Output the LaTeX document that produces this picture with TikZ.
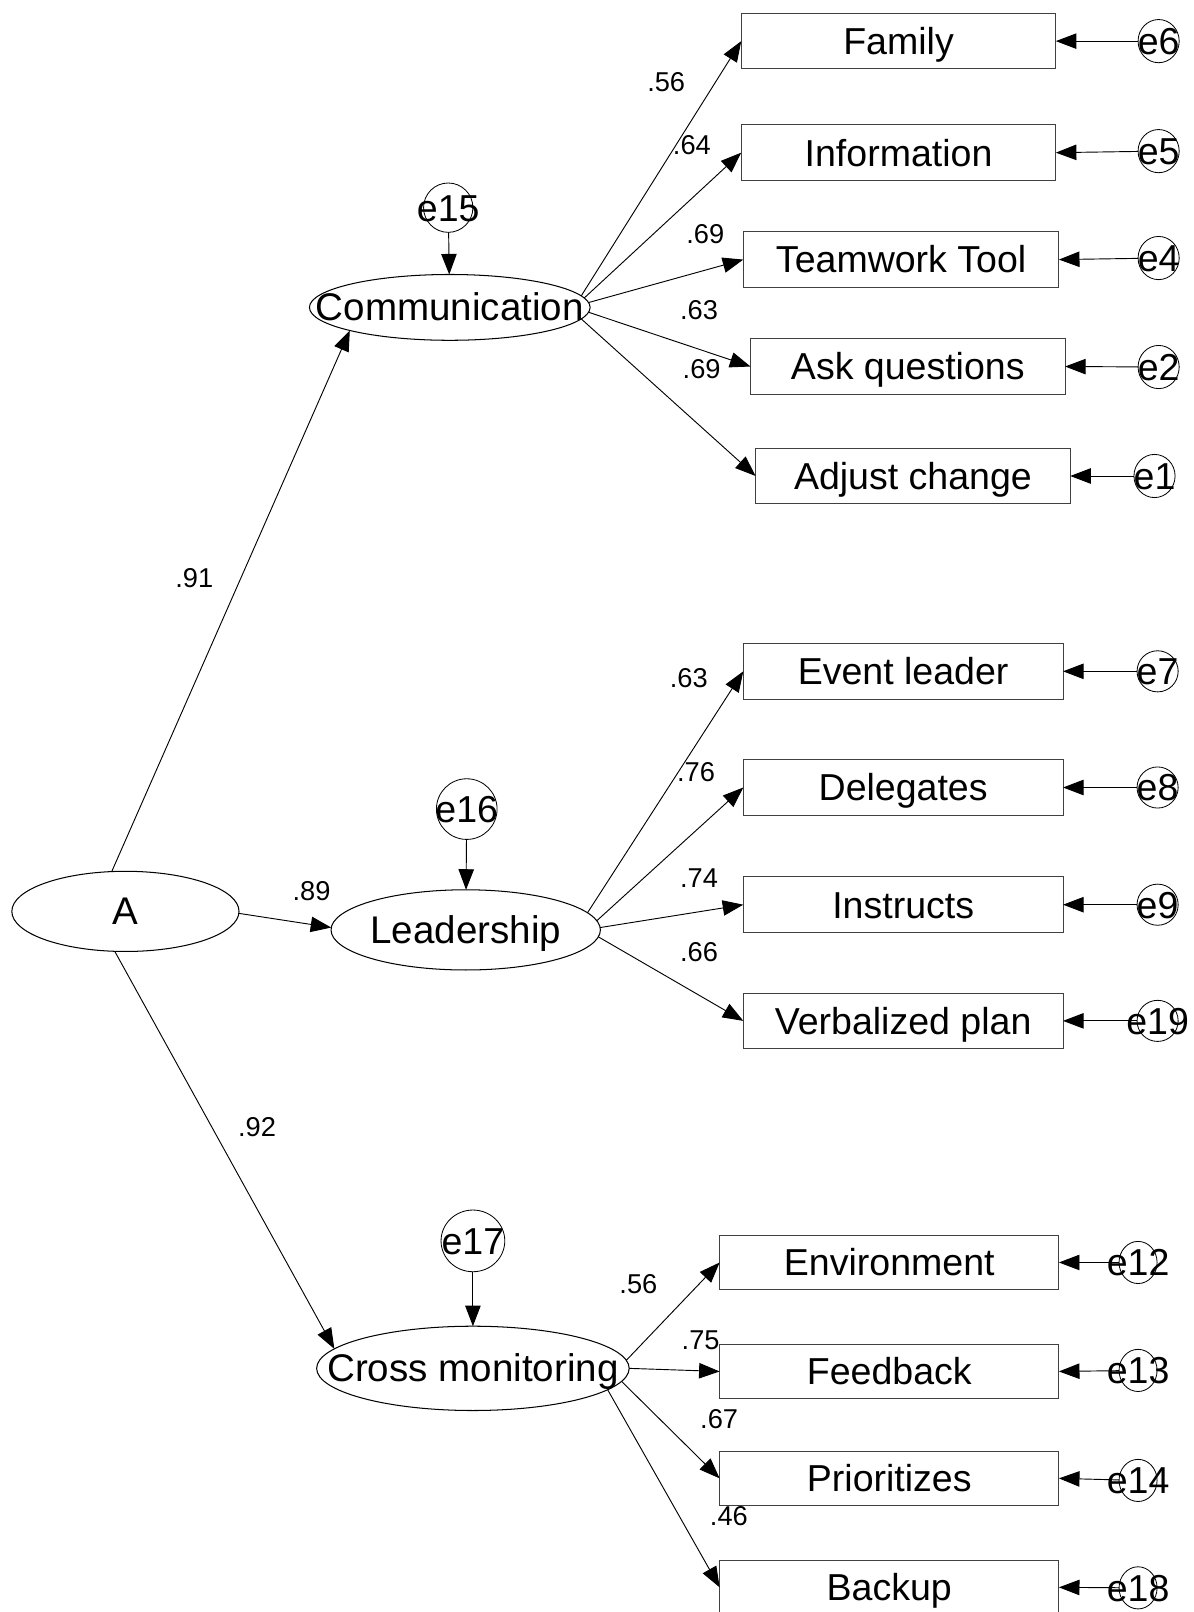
\documentclass[tikz,border=0pt]{standalone}
\usepackage{fontspec}
\setmainfont{Liberation Sans}
\usetikzlibrary{shapes.geometric,arrows.meta}
\newcommand\zw[1]{\makebox[0pt]{#1}}
\begin{document}
\begin{tikzpicture}[x=1pt,y=-1pt,
  every node/.style={inner sep=0pt, outer sep=0pt},
  obs/.style={draw=black!75, line width=1pt, rectangle, minimum height=54pt,
    font=\fontsize{36.5}{40}\selectfont, text height=26pt, text depth=0pt},
  latent/.style={draw, line width=1pt, ellipse,
    font=\fontsize{37.5}{40}\selectfont, text height=26pt, text depth=0pt},
  err/.style={draw, line width=0.8pt, ellipse,
    font=\fontsize{36.5}{40}\selectfont, text height=26pt, text depth=0pt},
  coef/.style={font=\fontsize{26.5}{30}\selectfont},
  arr/.style={line width=0.9pt, -{Triangle[length=20pt,width=15pt]}},
]
\useasboundingbox (0,0) rectangle (1161,1568);

% ---------- Communication group ----------
\node[obs, minimum width=306pt] (fam) at (874,40) {Family};
\node[obs, minimum width=306pt] (inf) at (874,148.5) {Information};
\node[obs, minimum width=307pt] (tw)  at (876.5,252.5) {Teamwork Tool};
\node[obs, minimum width=306pt] (ask) at (883,356.5) {Ask questions};
\node[obs, minimum width=306pt] (adj) at (888,463) {Adjust change};

\node[err, minimum width=40pt, minimum height=42pt] (e6) at (1127,40) {\zw{e6}};
\node[err, minimum width=40pt, minimum height=42pt] (e5) at (1127,147) {\zw{e5}};
\node[err, minimum width=40pt, minimum height=42pt] (e4) at (1127,251) {\zw{e4}};
\node[err, minimum width=40pt, minimum height=42pt] (e2) at (1127,357) {\zw{e2}};
\node[err, minimum width=40pt, minimum height=42pt] (e1) at (1123,463) {\zw{e1}};

\node[latent, minimum width=273pt, minimum height=64pt] (comm) at (437.5,299) {\zw{Communication}};
\node[err, minimum width=48pt, minimum height=48pt] (e15) at (436,202) {\zw{e15}};

% ---------- Leadership group ----------
\node[obs, minimum width=311pt] (ev)  at (878.5,653) {Event leader};
\node[obs, minimum width=311pt] (del) at (878.5,766) {Delegates};
\node[obs, minimum width=311pt] (ins) at (878.5,880) {Instructs};
\node[obs, minimum width=311pt] (ver) at (878.5,993) {Verbalized plan};

\node[err, minimum width=40pt, minimum height=40pt] (e7)  at (1126,653) {\zw{e7}};
\node[err, minimum width=40pt, minimum height=40pt] (e8)  at (1126,766) {\zw{e8}};
\node[err, minimum width=40pt, minimum height=40pt] (e9)  at (1126,880) {\zw{e9}};
\node[err, minimum width=40pt, minimum height=40pt] (e19) at (1126,993) {\zw{e19}};

\node[latent, minimum width=262pt, minimum height=78pt] (lead) at (453,904.5) {\zw{Leadership}};
\node[err, minimum width=59pt, minimum height=59pt] (e16) at (454,787) {\zw{e16}};

\node[latent, minimum width=221pt, minimum height=78pt] (A) at (122,886.5) {\zw{A}};

% ---------- Cross monitoring group ----------
\node[obs, minimum width=330pt, minimum height=52pt] (env)  at (865,1228) {Environment};
\node[obs, minimum width=330pt, minimum height=52pt] (feed) at (865,1334) {Feedback};
\node[obs, minimum width=330pt, minimum height=52pt] (prio) at (865,1438) {Prioritizes};
\node[obs, minimum width=330pt, minimum height=52pt] (back) at (865,1544) {Backup};

\node[err, minimum width=37pt, minimum height=41pt] (e12) at (1107,1228) {\zw{e12}};
\node[err, minimum width=37pt, minimum height=41pt] (e13) at (1107,1333) {\zw{e13}};
\node[err, minimum width=37pt, minimum height=41pt] (e14) at (1107,1440) {\zw{e14}};
\node[err, minimum width=37pt, minimum height=41pt] (e18) at (1107,1544.5) {\zw{e18}};

\node[latent, minimum width=304pt, minimum height=82pt] (cross) at (460,1331) {\zw{Cross monitoring}};
\node[err, minimum width=62pt, minimum height=60pt] (e17) at (460,1207) {\zw{e17}};

% ---------- paths ----------
\draw[arr] (A.109) -- (comm.193);
\draw[arr] (A.-1) -- (lead.179);
\draw[arr] (A.255) -- (cross.172);

\draw[arr] (e15) -- (comm);
\draw[arr] (e16) -- (lead);
\draw[arr] (e17) -- (cross);

\draw[arr] (comm.5) -- (fam.west);
\draw[arr] (comm.4) -- (inf.west);
\draw[arr] (comm.2) -- (tw.west);
\draw[arr] (comm.-2) -- (ask.west);
\draw[arr] (comm.-5) -- (adj.west);

\draw[arr] (lead.8) -- (ev.west);
\draw[arr] (lead.4) -- (del.west);
\draw[arr] (lead.1) -- (ins.west);
\draw[arr] (lead.-3) -- (ver.west);

\draw[arr] (cross.3) -- (env.west);
\draw[arr] (cross.0) -- (feed.west);
\draw[arr] (cross.-5) -- (prio.west);
\draw[arr] (cross.-9) -- (back.west);

\draw[arr] (e6) -- (fam.east);
\draw[arr] (e5) -- (inf.east);
\draw[arr] (e4) -- (tw.east);
\draw[arr] (e2) -- (ask.east);
\draw[arr] (e1) -- (adj.east);
\draw[arr] (e7) -- (ev.east);
\draw[arr] (e8) -- (del.east);
\draw[arr] (e9) -- (ins.east);
\draw[arr] (e19) -- (ver.east);
\draw[arr] (e12) -- (env.east);
\draw[arr] (e13) -- (feed.east);
\draw[arr] (e14) -- (prio.east);
\draw[arr] (e18) -- (back.east);

% ---------- coefficients ----------
\node[coef] (c1)  at (648,80)     {.56};
\node[coef] (c2)  at (673,141)    {.64};
\node[coef] (c3)  at (686,228)    {.69};
\node[coef] (c4)  at (680,302)    {.63};
\node[coef] (c5)  at (682.5,359)  {.69};
\node[coef] (c6)  at (189,562)    {.91};
\node[coef] (c7)  at (670,660)    {.63};
\node[coef] (c8)  at (677,751)    {.76};
\node[coef] (c9)  at (680,854.5)  {.74};
\node[coef] (c10) at (680,926)    {.66};
\node[coef] (c11) at (303,867)    {.89};
\node[coef] (c12) at (250,1096)   {.92};
\node[coef] (c13) at (621,1249)   {.56};
\node[coef] (c14) at (681.5,1304) {.75};
\node[coef] (c15) at (699.5,1380) {.67};
\node[coef] (c16) at (709,1475)   {.46};
\end{tikzpicture}
\end{document}
